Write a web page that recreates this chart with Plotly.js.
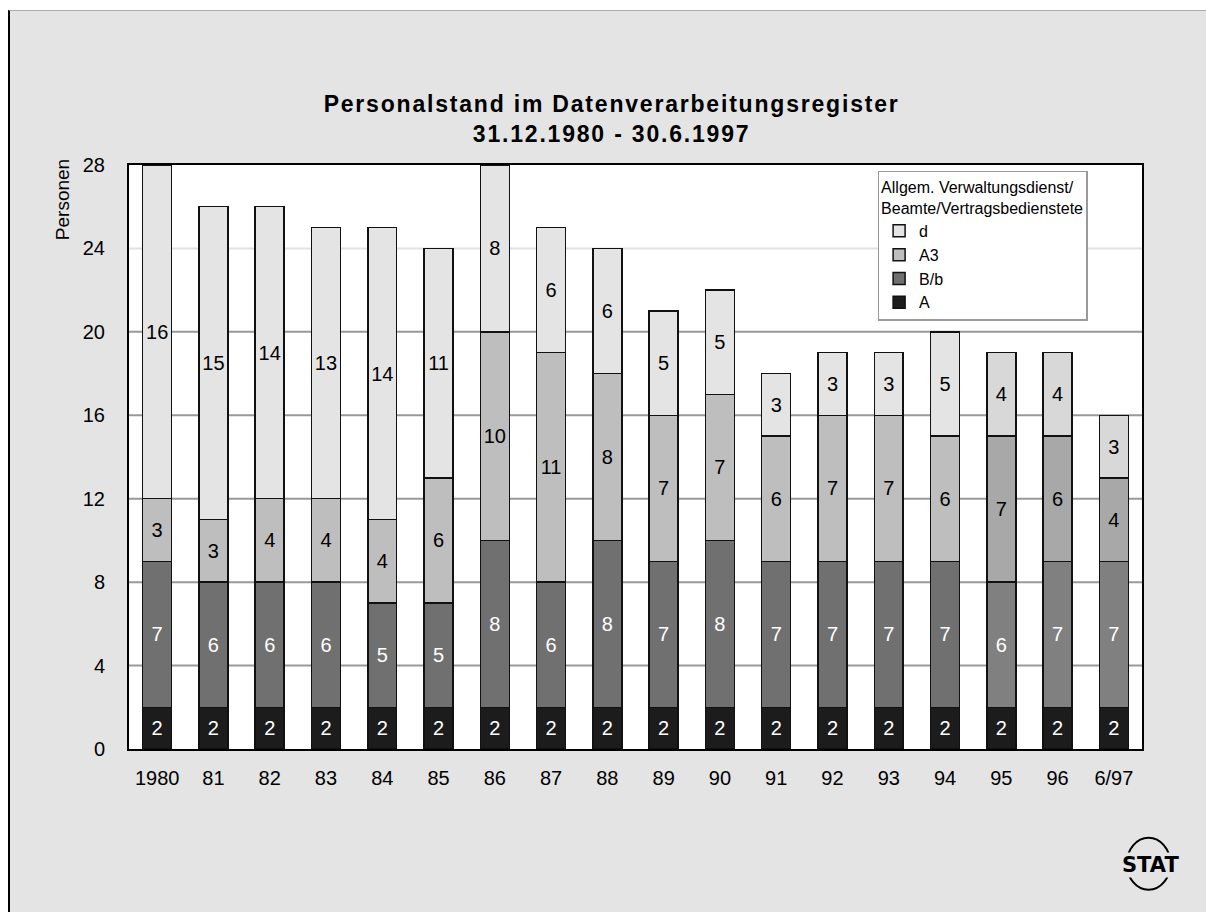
<!DOCTYPE html>
<html><head><meta charset="utf-8">
<script src="https://cdn.plot.ly/plotly-3.0.1.min.js"></script>
<style>
html,body{margin:0;padding:0;background:#fff;width:1206px;height:912px;overflow:hidden;}
#chart{position:absolute;left:8px;top:10px;width:1196px;height:901px;border-left:2px solid #000;border-top:1px solid #aaa;}
#chart .gtitle{letter-spacing:1.8px;}
</style></head>
<body><div id="chart"></div>
<script>
const categories = ['1980','81','82','83','84','85','86','87','88','89','90','91','92','93','94','95','96','6/97'];
const valA  = [2,2,2,2,2,2,2,2,2,2,2,2,2,2,2,2,2,2];
const valBb = [7,6,6,6,5,5,8,6,8,7,8,7,7,7,7,6,7,7];
const valA3 = [3,3,4,4,4,6,10,11,8,7,7,6,7,7,6,7,6,4];
const valD  = [16,15,14,13,14,11,8,6,6,5,5,3,3,3,5,4,4,3];
const seriesNames = ['A','B/b','A3','d'];
const yTicks = [0,4,8,12,16,20,24,28];

const baseColors = {'A':'#1c1c1c','B/b':'#707070','A3':'#bebebe','d':'#e4e4e4'};
const lateColors = {'A':'#1c1c1c','B/b':'#808080','A3':'#a8a8a8','d':'#d8d8d8'};
const textColors = {'A':'#ffffff','B/b':'#ffffff','A3':'#000000','d':'#000000'};
const lateStart = 15;

const font = "'Liberation Sans', Arial, sans-serif";
const vals = [valA, valBb, valA3, valD];
const traces = seriesNames.map((n, k) => ({
  type: 'bar', name: n, x: categories, y: vals[k],
  text: vals[k].map(String), textposition: 'inside', insidetextanchor: 'middle',
  textangle: 0, constraintext: 'none',
  textfont: {family: font, size: 20, color: textColors[n]},
  marker: {color: categories.map((c, i) => i >= lateStart ? lateColors[n] : baseColors[n]),
           line: {color: '#111', width: 1.5}},
  hoverinfo: 'x+y+name'
}));

const gridShapes = yTicks.filter(v => v > 0 && v < 28).map(v => ({
  type: 'line', xref: 'paper', x0: 0, x1: 1, yref: 'y', y0: v, y1: v,
  line: {color: v === 24 ? '#e2e2e2' : '#999999', width: 2}, layer: 'below'
}));

const layout = {
  width: 1196, height: 901,
  paper_bgcolor: '#e4e4e4', plot_bgcolor: '#ffffff',
  margin: {l: 119, r: 64, t: 154, b: 163},
  barmode: 'stack', bargap: 0.485,
  font: {family: font, size: 20, color: '#000'},
  title: {text: '<b>Personalstand im Datenverarbeitungsregister</b><br><b>31.12.1980 - 30.6.1997</b>',
          font: {family: font, size: 23, color: '#000'}, x: 0.503, xanchor: 'center',
          y: 0.888, yanchor: 'top', yref: 'container'},
  xaxis: {type: 'category', showline: true, mirror: true, linecolor: '#000', linewidth: 2,
          ticks: '', ticklabelstandoff: 10, tickfont: {family: font, size: 20}, showgrid: false},
  yaxis: {range: [0, 28], tickvals: yTicks, showline: true, mirror: true,
          linecolor: '#000', linewidth: 2, ticks: '', ticklabelstandoff: 18,
          tickfont: {family: font, size: 20}, showgrid: false, zeroline: false},
  legend: {x: 0.739, y: 0.99, xanchor: 'left', yanchor: 'top', bgcolor: '#ffffff',
           bordercolor: '#999', borderwidth: 1.5, traceorder: 'reversed',
           font: {family: font, size: 16, color: '#000'},
           title: {text: 'Allgem. Verwaltungsdienst/<br>Beamte/Vertragsbedienstete', font: {family: font, size: 16}}},
  shapes: gridShapes.concat([
    {type: 'circle', xref: 'paper', yref: 'paper', x0: 0.985, x1: 1.028, y0: -0.241, y1: -0.152,
     line: {color: '#000', width: 2}, fillcolor: 'rgba(0,0,0,0)'}
  ]),
  annotations: [
    {text: 'Personen', xref: 'paper', yref: 'paper', x: -0.066, y: 0.94, textangle: -90,
     showarrow: false, font: {family: font, size: 19}, xanchor: 'center', yanchor: 'middle'},
    {text: '<b>STAT</b>', xref: 'paper', yref: 'paper', x: 1.008, y: -0.199, showarrow: false,
     font: {family: "'DejaVu Sans', sans-serif", size: 21, color: '#000'}, xanchor: 'center', yanchor: 'middle',
     bgcolor: '#e4e4e4', borderpad: 0}
  ],
  showlegend: true
};
Plotly.newPlot('chart', traces, layout, {displayModeBar: false, staticPlot: true});
</script></body></html>
